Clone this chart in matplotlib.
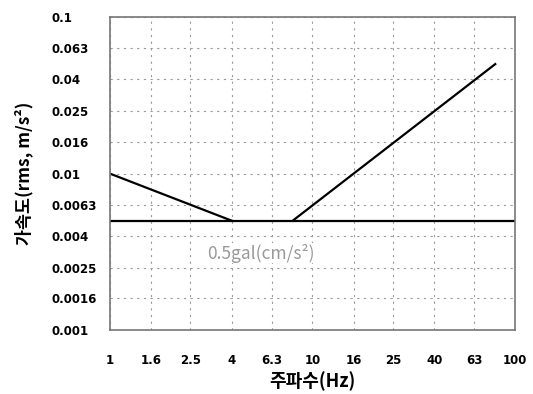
import matplotlib
matplotlib.use("Agg")
import matplotlib.pyplot as plt

plt.rcParams['font.family'] = ['Noto Sans CJK KR', 'DejaVu Sans']

# frequency / acceleration ticks (1/5-decade steps)
x_ticks = [1, 1.6, 2.5, 4, 6.3, 10, 16, 25, 40, 63, 100]
x_labels = ['1', '1.6', '2.5', '4', '6.3', '10', '16', '25', '40', '63', '100']
y_ticks = [0.001, 0.0016, 0.0025, 0.004, 0.0063, 0.01, 0.016, 0.025, 0.04, 0.063, 0.1]
y_labels = ['0.001', '0.0016', '0.0025', '0.004', '0.0063', '0.01', '0.016', '0.025', '0.04', '0.063', '0.1']

# limit curve
left_f = [1, 4]
left_a = [0.01, 0.005]
right_f = [8, 80]
right_a = [0.005, 0.05]
base_f = [1, 100]
base_a = [0.005, 0.005]
base_text = '0.5gal(cm/s²)'

fig = plt.figure(figsize=(5.33, 3.94), dpi=100)
ax = fig.add_axes([0.206, 0.162, 0.76, 0.795])

ax.set_xscale('log')
ax.set_yscale('log')
ax.set_xlim(1, 100)
ax.set_ylim(0.001, 0.1)

ax.plot(left_f, left_a, color='black', lw=1.6)
ax.plot(right_f, right_a, color='black', lw=1.6)
ax.plot(base_f, base_a, color='black', lw=1.6)
ax.text(5.6, 0.0031, base_text, color='#999999', fontsize=12.5, ha='center', va='center',
        zorder=5, bbox=dict(facecolor='white', edgecolor='none', pad=0.5))

ax.set_xticks(x_ticks)
ax.set_xticklabels(x_labels)
ax.set_yticks(y_ticks)
ax.set_yticklabels(y_labels)
ax.minorticks_off()
ax.tick_params(axis='x', length=0, labelsize=8.5, pad=17)
ax.tick_params(axis='y', length=0, labelsize=8.5, pad=42)
for lab in ax.get_yticklabels():
    lab.set_horizontalalignment('left')
for lab in ax.get_xticklabels() + ax.get_yticklabels():
    lab.set_fontweight('bold')
    lab.set_family('DejaVu Sans')

ax.grid(True, color='#999999', ls=(0, (2, 4)), lw=0.8)
for s in ax.spines.values():
    s.set_color('#777777')
    s.set_linewidth(1.2)

ax.set_xlabel('주파수(Hz)', fontsize=13, fontweight='bold')
ax.set_ylabel('가속도(rms, m/s²)', fontsize=12.5, fontweight='bold')
ax.xaxis.set_label_coords(0.5, -0.13)
ax.yaxis.set_label_coords(-0.19, 0.5)

fig.savefig('out.png', dpi=100, facecolor='white')
